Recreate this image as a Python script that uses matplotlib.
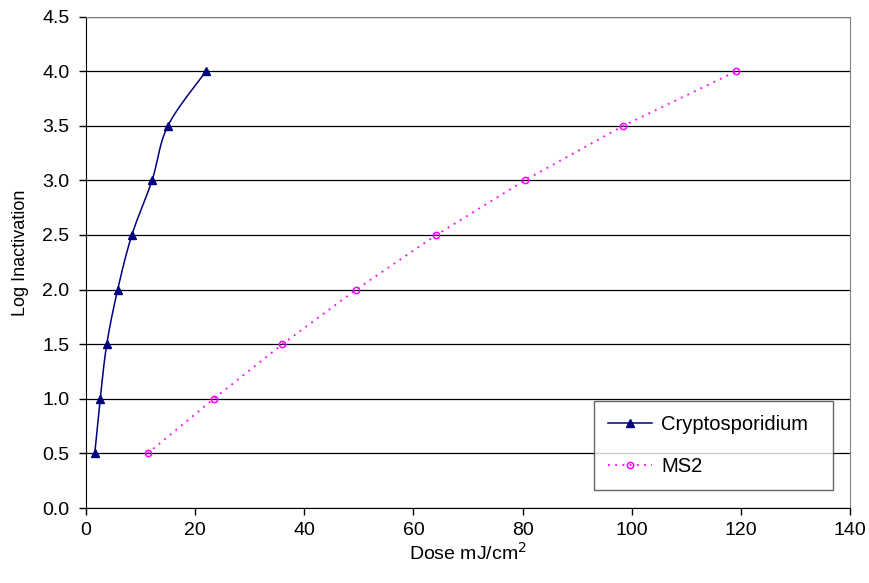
import numpy as np
import matplotlib.pyplot as plt

plt.rcParams['font.family'] = ['Liberation Sans', 'DejaVu Sans']

# data
log_inact = [0.5, 1.0, 1.5, 2.0, 2.5, 3.0, 3.5, 4.0]
crypto_dose = [1.6, 2.6, 3.8, 5.8, 8.4, 12.1, 15.0, 22.0]
ms2_dose = [11.3, 23.4, 36.0, 49.5, 64.2, 80.4, 98.5, 119.2]


def smooth(xs, ys, n=20):
    # Catmull-Rom curve through the points (like Excel "smoothed line")
    p = np.column_stack([xs, ys]).astype(float)
    p = np.vstack([p[0], p, p[-1]])
    out = []
    t = np.linspace(0, 1, n)[:, None]
    for i in range(1, len(p) - 2):
        p0, p1, p2, p3 = p[i - 1], p[i], p[i + 1], p[i + 2]
        seg = 0.5 * ((2 * p1) + (-p0 + p2) * t + (2 * p0 - 5 * p1 + 4 * p2 - p3) * t**2
                     + (-p0 + 3 * p1 - 3 * p2 + p3) * t**3)
        out.append(seg)
    out = np.vstack(out)
    return out[:, 0], out[:, 1]


fig = plt.figure(figsize=(8.69, 5.83), dpi=100)
ax = fig.add_axes([0.099, 0.1286, 0.879, 0.843])

sx, sy = smooth(crypto_dose, log_inact)
ax.plot(sx, sy, color='#000080', lw=1.1, zorder=3)
ax.plot(crypto_dose, log_inact, ls='none', marker='^', color='#000080', ms=6, zorder=4)
ax.plot([], [], color='#000080', lw=1.1, marker='^', ms=6, label='Cryptosporidium')

ax.plot(ms2_dose, log_inact, color='#FF00FF', ls=(0, (1, 3)), lw=1.3, marker='o', ms=4.5,
        mfc='none', mec='#FF00FF', mew=1.1, zorder=3, label='MS2')

ax.set_xlim(0, 140)
ax.set_ylim(0, 4.5)
ax.set_xticks(np.arange(0, 141, 20))
ax.set_yticks(np.arange(0, 4.51, 0.5))
ax.set_yticklabels([f'{v:.1f}' for v in np.arange(0, 4.51, 0.5)])
ax.grid(axis='y', color='black', lw=0.9)
ax.set_axisbelow(True)

for s in ['top', 'right']:
    ax.spines[s].set_color('#808080')
ax.spines['left'].set_color('black')
ax.spines['bottom'].set_color('black')
ax.tick_params(direction='out', length=5, width=1, labelsize=14)
ax.tick_params(axis='x', pad=5)
ax.tick_params(axis='y', pad=7)

ax.set_xlabel('Dose mJ/cm$^2$', fontsize=14, labelpad=2)
ax.set_ylabel('Log Inactivation', fontsize=13)
ax.yaxis.set_label_coords(-0.075, 0.52)

leg = ax.legend(loc='upper left', bbox_to_anchor=(0.665, 0.0, 0.313, 0.218), mode='expand',
                fontsize=14.5, frameon=True, fancybox=False, borderpad=0.7,
                labelspacing=1.15, handlelength=2.2, handletextpad=0.45, borderaxespad=0)
leg.get_frame().set_edgecolor('#404040')
leg.get_frame().set_linewidth(1.0)

fig.savefig('out.png', dpi=100)
